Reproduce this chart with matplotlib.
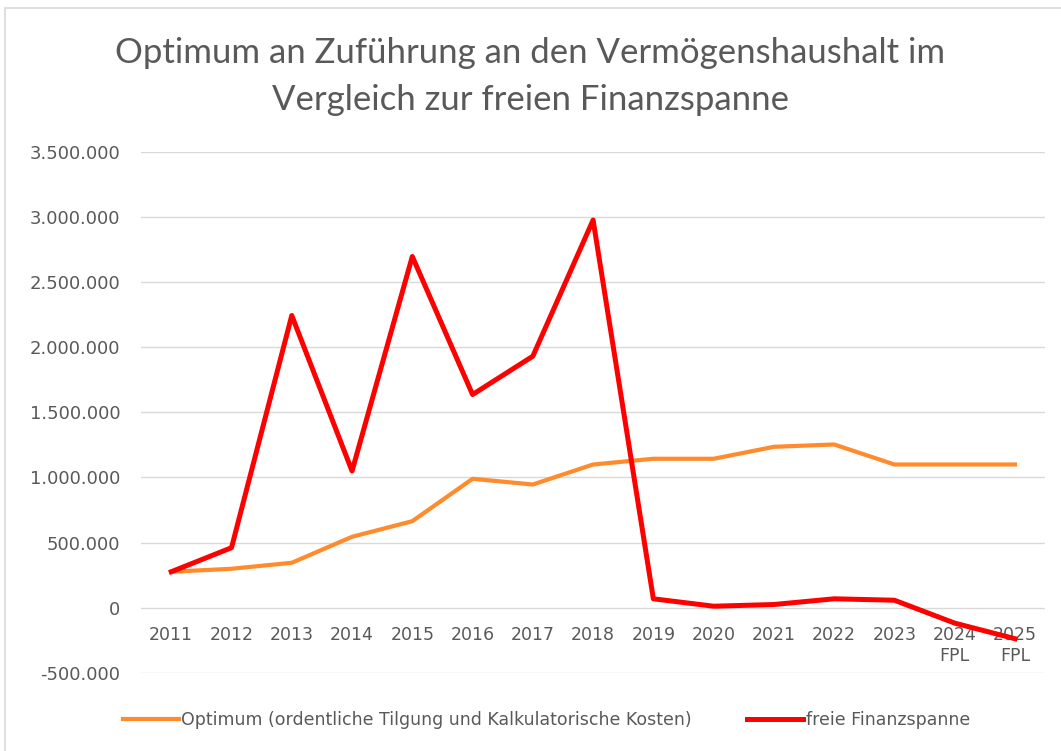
import matplotlib
matplotlib.use('Agg')
import matplotlib.pyplot as plt
from matplotlib.patches import Rectangle
from matplotlib.ticker import FuncFormatter

# Daten
jahre = ["2011", "2012", "2013", "2014", "2015", "2016", "2017", "2018",
         "2019", "2020", "2021", "2022", "2023", "2024\nFPL", "2025\nFPL"]
optimum = [275000, 298000, 344000, 544000, 664000, 990000, 946000, 1100000,
           1144000, 1144000, 1236000, 1254000, 1100000, 1100000, 1100000]
freie_finanzspanne = [275000, 460000, 2246000, 1050000, 2700000, 1638000, 1933000, 2980000,
                      67000, 10000, 23000, 67000, 56000, -120000, -240000]

grau = '#595959'

fig = plt.figure(figsize=(10.61, 7.51), dpi=100)
ax = fig.add_axes([0.133, 0.1045, 0.852, 0.6925])

# Rahmen wie im Excel-Diagramm
fig.patches.append(Rectangle((5 / 1061, -0.1), 1.2, 1.1 - 8 / 751,
                             transform=fig.transFigure, fill=False,
                             edgecolor='#D9D9D9', linewidth=1.2))

x = list(range(len(jahre)))
ax.plot(x, optimum, color='#FF8B2C', linewidth=3.0, solid_joinstyle='round',
        label="Optimum (ordentliche Tilgung und Kalkulatorische Kosten)")
ax.plot(x, freie_finanzspanne, color='#FF0000', linewidth=3.6, solid_joinstyle='round',
        label="freie Finanzspanne")

ax.set_xlim(-0.5, len(jahre) - 0.5)
ax.set_ylim(-500000, 3500000)
ax.set_yticks(range(-500000, 3500001, 500000))
ax.yaxis.set_major_formatter(FuncFormatter(lambda v, p: f"{int(v):,}".replace(",", ".")))
ax.grid(axis='y', color='#D9D9D9', linewidth=1.0)
ax.set_axisbelow(True)

for s in ax.spines.values():
    s.set_visible(False)
ax.spines['bottom'].set_position(('data', 0))

ax.set_xticks(x)
ax.set_xticklabels(jahre, fontfamily='DejaVu Sans', fontsize=12.5, color=grau, linespacing=1.25,
                   verticalalignment='top')
ax.tick_params(axis='x', length=0, pad=13)
ax.tick_params(axis='y', length=0, pad=15, labelsize=13, labelcolor=grau)

fig.text(0.5, 0.898, "Optimum an Zuführung an den Vermögenshaushalt im\nVergleich zur freien Finanzspanne",
         ha='center', va='center', fontfamily='Lato', fontsize=25,
         color=grau, linespacing=1.55)

ax.legend(loc='center', bbox_to_anchor=(0.515, 0.041), bbox_transform=fig.transFigure,
          ncol=2, frameon=False, prop={'family': 'DejaVu Sans', 'size': 12.5},
          labelcolor=grau, handlelength=3.2, handletextpad=0.15, columnspacing=3.2)

fig.savefig("out.png", dpi=100)
